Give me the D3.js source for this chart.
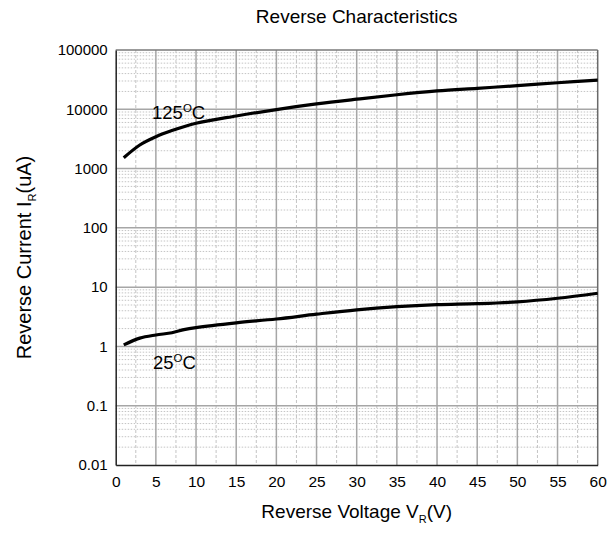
<!DOCTYPE html>
<html><head><meta charset="utf-8">
<script src="https://cdn.jsdelivr.net/npm/d3@7/dist/d3.min.js"></script>
<style>body{margin:0;background:#fff}svg{display:block;font-family:"Liberation Sans",Arial,sans-serif}</style>
</head><body><svg id="c" width="615" height="534"></svg>
<script>
const voltage = [1, 3, 5, 7, 10, 15, 20, 25, 30, 35, 40, 45, 50, 55, 60];
const current125 = [1520, 2500, 3450, 4370, 5800, 7700, 9900, 12300, 14800, 17600, 20400, 22600, 25000, 28000, 31000];
const voltage25 = [1, 3, 5, 7, 8.5, 10, 15, 20, 25, 30, 35, 40, 45, 50, 55, 60];
const current25 = [1.06, 1.38, 1.56, 1.70, 1.92, 2.08, 2.50, 2.90, 3.50, 4.15, 4.69, 5.07, 5.27, 5.65, 6.5, 7.9];
const xTicks = [0, 5, 10, 15, 20, 25, 30, 35, 40, 45, 50, 55, 60];
const yTicks = [0.01, 0.1, 1, 10, 100, 1000, 10000, 100000];
const yTickLabels = ["0.01", "0.1", "1", "10", "100", "1000", "10000", "100000"];

const svg = d3.select("#c");
const L = 115.7, R = 597.7, T = 50, B = 465;
const x = d3.scaleLinear().domain([0, 60]).range([L, R]);
const y = d3.scaleLog().domain([0.01, 100000]).range([B, T]);

const g = svg.append("g");
// minor horizontal gridlines
const minorY = [];
for (let e = -2; e < 5; e++) for (let m = 2; m <= 9; m++) minorY.push(m * Math.pow(10, e));
g.selectAll(".mh").data(minorY).enter().append("line")
  .attr("x1", L).attr("x2", R).attr("y1", d => y(d)).attr("y2", d => y(d))
  .attr("stroke", "#c4c4c4").attr("stroke-width", 1).attr("stroke-dasharray", "1.5,1.5");
// minor vertical gridlines
const minorX = d3.range(2.5, 60, 5);
g.selectAll(".mv").data(minorX).enter().append("line")
  .attr("x1", d => x(d)).attr("x2", d => x(d)).attr("y1", T).attr("y2", B)
  .attr("stroke", "#c4c4c4").attr("stroke-width", 1).attr("stroke-dasharray", "3,2");
// major gridlines
g.selectAll(".Mh").data(yTicks.slice(1, -1)).enter().append("line")
  .attr("x1", L).attr("x2", R).attr("y1", d => y(d)).attr("y2", d => y(d))
  .attr("stroke", "#a6a6a6").attr("stroke-width", 1.5);
g.selectAll(".Mv").data(xTicks.slice(1, -1)).enter().append("line")
  .attr("x1", d => x(d)).attr("x2", d => x(d)).attr("y1", T).attr("y2", B)
  .attr("stroke", "#a6a6a6").attr("stroke-width", 1.5);
// frame
g.append("line").attr("x1", L).attr("x2", R).attr("y1", T).attr("y2", T).attr("stroke", "#7a7a7a").attr("stroke-width", 1.5);
g.append("line").attr("x1", R).attr("x2", R).attr("y1", T).attr("y2", B).attr("stroke", "#6a6a6a").attr("stroke-width", 1.5);

// axes
const xAxis = d3.axisBottom(x).tickValues(xTicks).tickSize(0).tickPadding(11);
const yAxis = d3.axisLeft(y).tickValues(yTicks).tickFormat((d, i) => yTickLabels[i]).tickSize(0).tickPadding(8);
const xa = svg.append("g").attr("transform", `translate(0,${B})`).call(xAxis);
const ya = svg.append("g").attr("transform", `translate(${L},0)`).call(yAxis);
[xa, ya].forEach(a => {
  a.select(".domain").attr("stroke", "#222").attr("stroke-width", 1.5);
  a.selectAll("text").attr("fill", "#000").attr("font-family", "Liberation Sans, Arial, sans-serif");
});
xa.selectAll("text").attr("font-size", 15.5);
ya.selectAll("text").attr("font-size", 15);

// curves
const line = d3.line().x(d => x(d[0])).y(d => y(d[1])).curve(d3.curveCatmullRom.alpha(0.5));
svg.append("path").datum(voltage.map((v, i) => [v, current125[i]]))
  .attr("d", line).attr("fill", "none").attr("stroke", "#000").attr("stroke-width", 3.2);
svg.append("path").datum(voltage25.map((v, i) => [v, current25[i]]))
  .attr("d", line).attr("fill", "none").attr("stroke", "#000").attr("stroke-width", 3.2);

// curve labels
function tempLabel(tx, ty, num) {
  const t = svg.append("text").attr("x", tx).attr("y", ty).attr("font-size", 18.5).attr("fill", "#000");
  t.append("tspan").text(num);
  t.append("tspan").attr("font-size", 11.5).attr("dy", -7.5).text("O");
  t.append("tspan").attr("dy", 7.5).text("C");
}
tempLabel(152, 119, "125");
tempLabel(153, 369, "25");

// title
svg.append("text").attr("x", (L + R) / 2).attr("y", 23).attr("text-anchor", "middle")
  .attr("font-size", 19).text("Reverse Characteristics");
// x label
const xl = svg.append("text").attr("x", (L + R) / 2).attr("y", 518).attr("text-anchor", "middle").attr("font-size", 19);
xl.append("tspan").text("Reverse Voltage V");
xl.append("tspan").attr("font-size", 11).attr("dy", 5).text("R");
xl.append("tspan").attr("dy", -5).text("(V)");
// y label
const yl = svg.append("text").attr("transform", `translate(31,${(T + B) / 2}) rotate(-90)`).attr("text-anchor", "middle").attr("font-size", 20);
yl.append("tspan").text("Reverse Current I");
yl.append("tspan").attr("font-size", 11).attr("dy", 5).text("R");
yl.append("tspan").attr("dy", -5).text("(uA)");
</script></body></html>
